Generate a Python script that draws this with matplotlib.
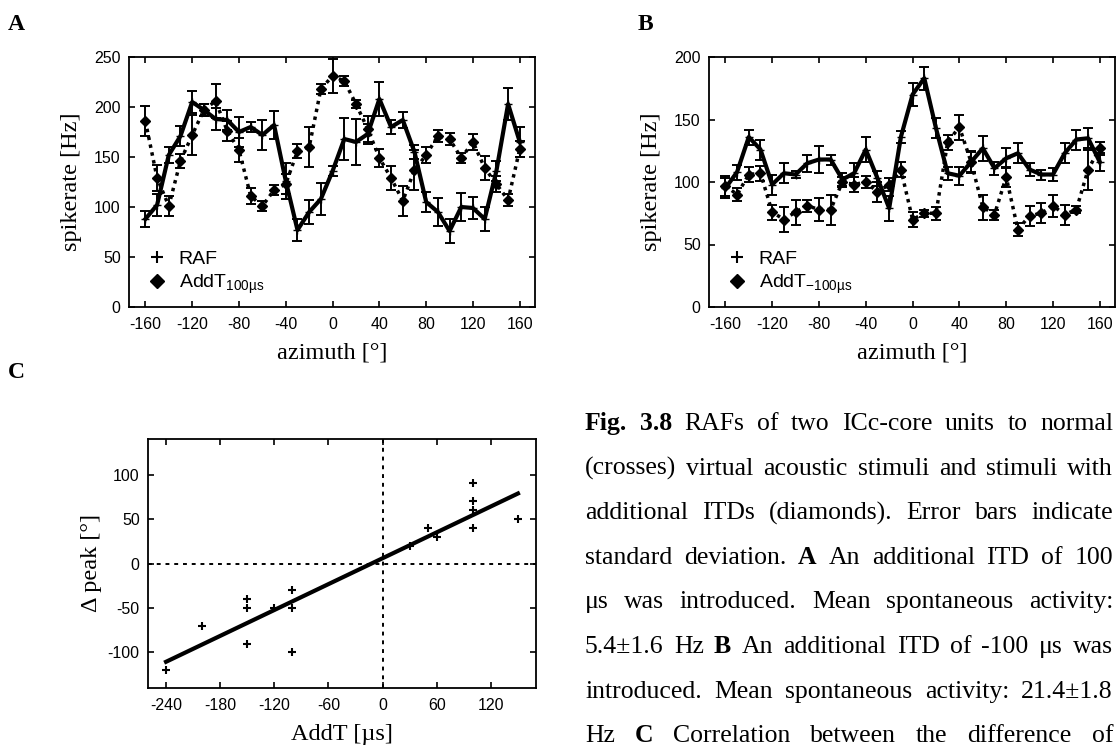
import numpy as np
import matplotlib.pyplot as plt
from matplotlib.lines import Line2D

plt.rcParams['font.family'] = 'Liberation Sans'
plt.rcParams['mathtext.default'] = 'regular'
plt.rcParams['axes.unicode_minus'] = False

# azimuth in degrees (panels A and B)
azimuth = [-160, -150, -140, -130, -120, -110, -100, -90, -80, -70, -60, -50, -40, -30, -20, -10,
           0, 10, 20, 30, 40, 50, 60, 70, 80, 90, 100, 110, 120, 130, 140, 150, 160]

# panel A, spikerate [Hz]
a_raf = [88, 102, 152, 171, 205, 197, 188, 187, 175, 180, 172, 182, 126, 77, 95, 108,
         136, 168, 165, 173, 208, 180, 187, 155, 105, 95, 76, 100, 99, 88, 136, 203, 165]
a_raf_err = [8, 11, 8, 10, 11, 6, 11, 10, 15, 5, 15, 14, 18, 11, 12, 16,
             5, 21, 23, 10, 17, 7, 8, 7, 10, 14, 12, 14, 11, 12, 10, 16, 15]
a_addt = [186, 129, 101, 146, 172, 197, 206, 176, 157, 111, 101, 117, 123, 156, 160, 218,
          231, 226, 203, 178, 149, 129, 106, 137, 152, 171, 168, 149, 165, 139, 123, 107, 158]
a_addt_err = [15, 13, 10, 7, 20, 6, 17, 10, 12, 8, 5, 5, 10, 7, 20, 5,
              17, 5, 4, 13, 9, 12, 15, 20, 8, 6, 6, 5, 8, 12, 8, 6, 8]

# panel B, spikerate [Hz]
b_raf = [95, 108, 136, 126, 98, 107, 106, 115, 118, 118, 102, 107, 126, 103, 79, 136,
         170, 183, 143, 107, 105, 116, 127, 111, 119, 123, 110, 106, 106, 123, 134, 135, 116]
b_raf_err = [8, 6, 6, 8, 8, 8, 3, 7, 11, 4, 5, 8, 10, 6, 10, 5,
             9, 9, 8, 5, 7, 9, 10, 5, 8, 8, 5, 4, 5, 8, 8, 8, 7]
b_addt = [97, 90, 106, 107, 76, 70, 76, 81, 78, 78, 100, 98, 100, 92, 98, 110,
          70, 75, 75, 132, 144, 116, 80, 74, 104, 62, 73, 75, 81, 74, 78, 110, 127]
b_addt_err = [8, 5, 6, 6, 6, 10, 10, 5, 9, 12, 4, 6, 5, 8, 5, 6,
              6, 3, 5, 6, 10, 8, 10, 4, 8, 5, 8, 8, 9, 8, 3, 16, 5]

# panel C
addt_us = [-240, -200, -150, -150, -150, -120, -100, -100, -100, 30, 50, 60, 100, 100, 100, 100, 150]
dpeak = [-120, -70, -40, -50, -90, -50, -30, -50, -100, 20, 40, 30, 40, 60, 70, 90, 50]

caption = [
    'Fig. 3.8 RAFs of two ICc-core units to normal',
    '(crosses) virtual acoustic stimuli and stimuli with',
    'additional ITDs (diamonds). Error bars indicate',
    'standard deviation. A An additional ITD of 100',
    'μs was introduced. Mean spontaneous activity:',
    '5.4±1.6 Hz B An additional ITD of -100 μs was',
    'introduced. Mean spontaneous activity: 21.4±1.8',
    'Hz C Correlation between the difference of',
]
bold_words = ['Fig.', '3.8', 'A', 'B', 'C']

W, H = 1120, 749
fig = plt.figure(figsize=(W / 100, H / 100), dpi=100)


def px_rect(left, top, right, bottom):
    return [left / W, 1 - bottom / H, (right - left) / W, (bottom - top) / H]


def style(ax):
    for s in ax.spines.values():
        s.set_linewidth(1.3)
    ax.tick_params(direction='in', top=True, right=True, length=4, width=1.2,
                   labelsize=11.5, pad=7)
    ax.tick_params(axis='y', pad=6)


def raf_panel(ax, raf, raf_err, addt, addt_err, ymax, sub):
    ax.errorbar(azimuth, addt, yerr=addt_err, color='k', ls=(0, (1, 1.3)), lw=2.5,
                marker='D', ms=5.5, elinewidth=1.4, capsize=3.5, capthick=1.4)
    ax.errorbar(azimuth, raf, yerr=raf_err, color='k', ls='-', lw=3,
                marker='+', ms=6, elinewidth=1.4, capsize=3.5, capthick=1.4)
    ax.set_xlim(-174, 173)
    ax.set_ylim(0, ymax)
    ax.set_xticks([-160, -120, -80, -40, 0, 40, 80, 120, 160])
    ax.set_yticks(range(0, ymax + 1, 50))
    ax.set_xlabel('azimuth [°]', family='Liberation Serif', fontsize=17.5, labelpad=8)
    ax.set_ylabel('spikerate [Hz]', family='Liberation Serif', fontsize=17.5, labelpad=9)
    style(ax)
    handles = [Line2D([], [], ls='none', marker='+', color='k', ms=8, mew=1.5),
               Line2D([], [], ls='none', marker='D', color='k', ms=7)]
    ax.legend(handles, ['RAF', 'AddT$_{' + sub + '}$'], loc='lower left',
              bbox_to_anchor=(0.022, 0.004), frameon=False, fontsize=14,
              handlelength=1.0, handletextpad=0.6, labelspacing=0.25, borderpad=0)


axA = fig.add_axes(px_rect(129, 57, 535, 307))
raf_panel(axA, a_raf, a_raf_err, a_addt, a_addt_err, 250, '100µs')

axB = fig.add_axes(px_rect(709, 57, 1115, 307))
raf_panel(axB, b_raf, b_raf_err, b_addt, b_addt_err, 200, '-100µs')

axC = fig.add_axes(px_rect(148, 439, 536, 688))
axC.axhline(0, color='k', lw=1.4, ls=(0, (2, 2.5)))
axC.axvline(0, color='k', lw=1.4, ls=(0, (2, 2.5)))
fit = np.polyfit(addt_us, dpeak, 1)
xs = np.array([min(addt_us), max(addt_us)])
axC.plot(xs, np.polyval(fit, xs), color='k', lw=3)
axC.plot(addt_us, dpeak, ls='none', marker='+', color='k', ms=6, mew=1.5)
axC.set_xlim(-260, 170)
axC.set_ylim(-140, 140)
axC.set_xticks([-240, -180, -120, -60, 0, 60, 120])
axC.set_yticks([-100, -50, 0, 50, 100])
axC.set_xlabel('AddT [µs]', family='Liberation Serif', fontsize=17.5, labelpad=8)
axC.set_ylabel('Δ peak [°]', family='Liberation Serif', fontsize=17.5, labelpad=4)
style(axC)

for lab, x, y in [('A', 8, 30), ('B', 638, 30), ('C', 8, 378)]:
    fig.text(x / W, 1 - y / H, lab, family='Liberation Serif', weight='bold', fontsize=17)

# justified caption
renderer = fig.canvas.get_renderer()
cap_left, cap_right = 585, 1113
for i, line in enumerate(caption):
    base = 430 + 44.6 * i
    words = line.split()
    texts = [fig.text(0, 1 - base / H, w, family='Liberation Serif', fontsize=18.5,
                      weight='bold' if w in bold_words else 'normal', va='baseline')
             for w in words]
    widths = [t.get_window_extent(renderer).width for t in texts]
    gap = (cap_right - cap_left - sum(widths)) / (len(words) - 1)
    x = cap_left
    for t, w in zip(texts, widths):
        t.set_x(x / W)
        x += w + gap

fig.savefig('out.png', dpi=100)
